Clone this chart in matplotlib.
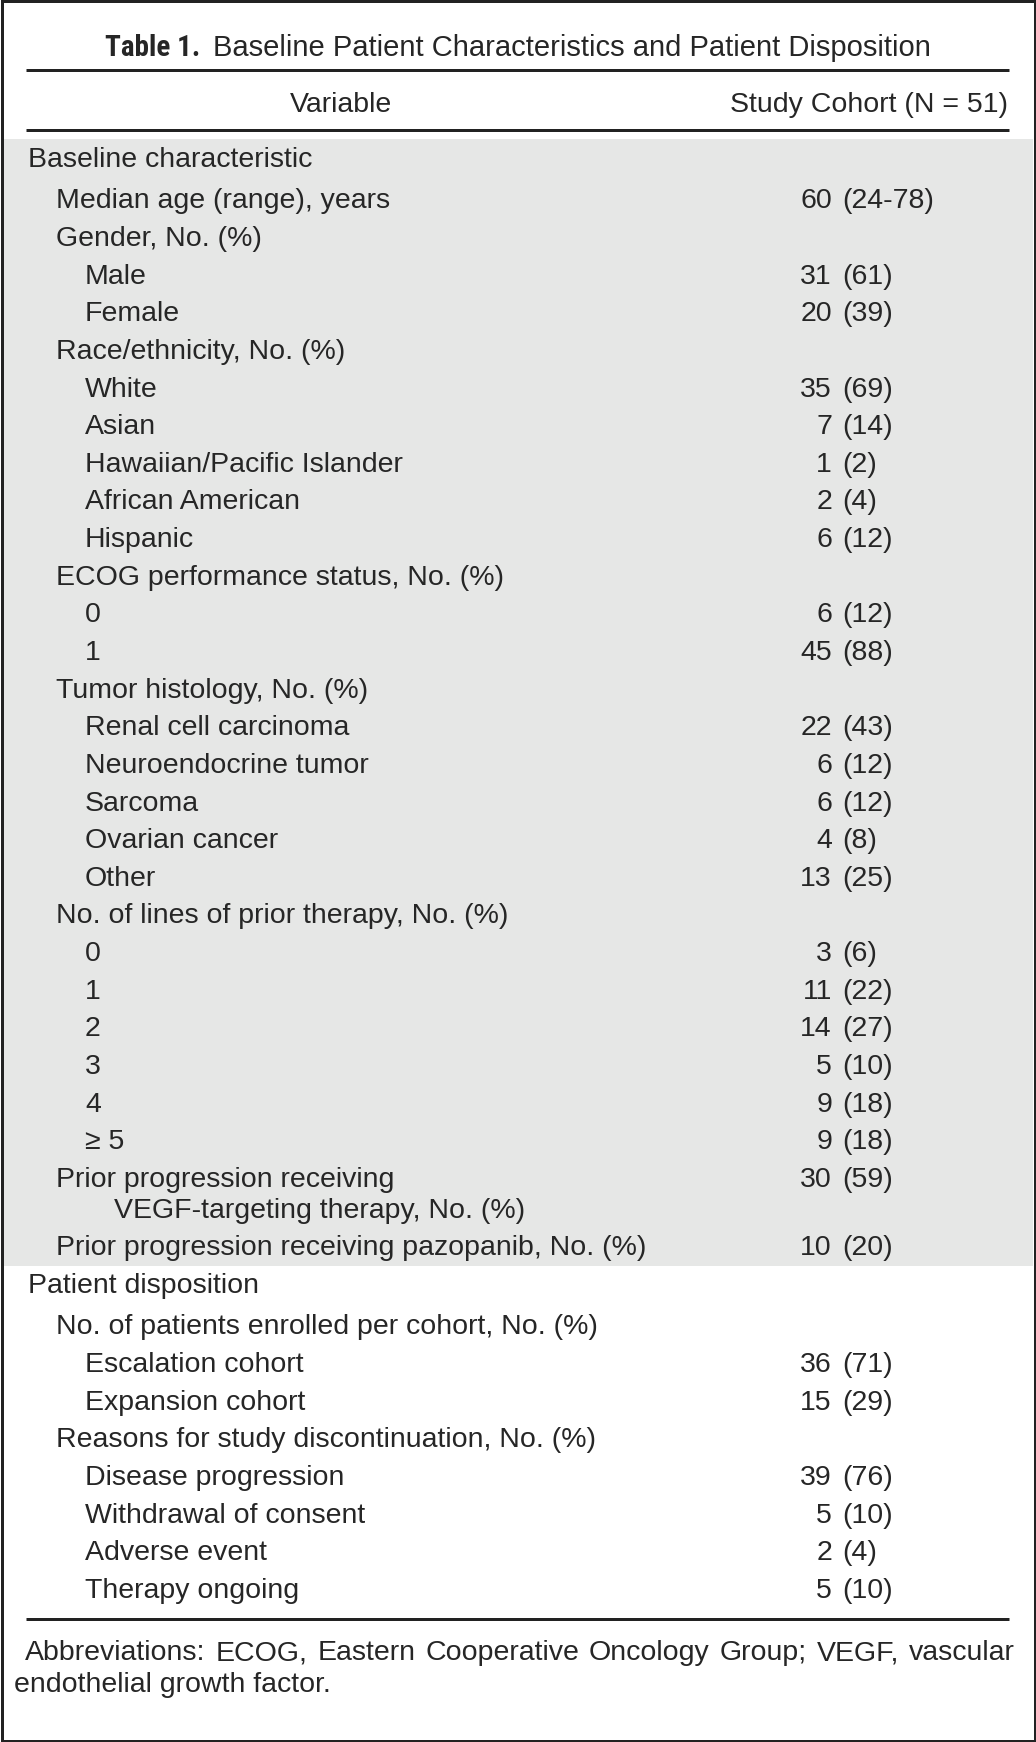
import matplotlib
matplotlib.use("Agg")
import matplotlib.pyplot as plt
from matplotlib.patches import Rectangle

# ---------------- data ----------------
title_bold = "Table 1."
title_rest = "Baseline Patient Characteristics and Patient Disposition"
col_headers = ["Variable", "Study Cohort (N = 51)"]

row_labels = [
    "Baseline characteristic",
    "Median age (range), years",
    "Gender, No. (%)",
    "Male",
    "Female",
    "Race/ethnicity, No. (%)",
    "White",
    "Asian",
    "Hawaiian/Pacific Islander",
    "African American",
    "Hispanic",
    "ECOG performance status, No. (%)",
    "0",
    "1",
    "Tumor histology, No. (%)",
    "Renal cell carcinoma",
    "Neuroendocrine tumor",
    "Sarcoma",
    "Ovarian cancer",
    "Other",
    "No. of lines of prior therapy, No. (%)",
    "0",
    "1",
    "2",
    "3",
    "4",
    "\u2265 5",
    "Prior progression receiving\nVEGF-targeting therapy, No. (%)",
    "Prior progression receiving pazopanib, No. (%)",
    "Patient disposition",
    "No. of patients enrolled per cohort, No. (%)",
    "Escalation cohort",
    "Expansion cohort",
    "Reasons for study discontinuation, No. (%)",
    "Disease progression",
    "Withdrawal of consent",
    "Adverse event",
    "Therapy ongoing",
]
row_levels = [0, 1, 1, 2, 2, 1, 2, 2, 2, 2, 2, 1, 2, 2, 1, 2, 2, 2, 2, 2,
              1, 2, 2, 2, 2, 2, 2, 1, 1, 0, 1, 2, 2, 1, 2, 2, 2, 2]
row_counts = ["", "60", "", "31", "20", "", "35", "7", "1", "2", "6", "", "6", "45",
              "", "22", "6", "6", "4", "13", "", "3", "11", "14", "5", "9", "9", "30",
              "10", "", "", "36", "15", "", "39", "5", "2", "5"]
row_pcts = ["", "24-78", "", "61", "39", "", "69", "14", "2", "4", "12", "", "12", "88",
            "", "43", "12", "12", "8", "25", "", "6", "22", "27", "10", "18", "18", "59",
            "20", "", "", "71", "29", "", "76", "10", "4", "10"]

footnote_line1 = "Abbreviations: ECOG, Eastern Cooperative Oncology Group; VEGF, vascular"
footnote_line2 = "endothelial growth factor."

# ---------------- layout ----------------
W, H = 1036, 1742
DPI = 100
TXT = "#262626"
FS = 20.5
FS_TITLE = 21.0
FAM = ["Liberation Sans", "DejaVu Sans"]

fig = plt.figure(figsize=(W / DPI, H / DPI), dpi=DPI)
ax = fig.add_axes([0, 0, 1, 1])
ax.set_xlim(0, W)
ax.set_ylim(H, 0)
ax.axis("off")

px = 72.0 / DPI  # points per pixel

# outer frame
ax.add_patch(Rectangle((1.5, 1.5), W - 3, H - 3, fill=False, ec="#222222", lw=3 * px, zorder=5))

# shading for baseline block
ax.add_patch(Rectangle((3, 139), W - 6, 1266 - 139, fc="#e6e7e6", ec="none", zorder=0))

# rules
for yy in (70.5, 130.5, 1619):
    ax.plot([26, 1009], [yy, yy], color="#222222", lw=3 * px, solid_capstyle="butt", zorder=2)

fig.canvas.draw()
renderer = fig.canvas.get_renderer()
inv = ax.transData.inverted()


def text_width(t):
    bb = t.get_window_extent(renderer=renderer)
    (x0, _), (x1, _) = inv.transform([(bb.x0, 0), (bb.x1, 0)])
    return x1 - x0


# title
tb = ax.text(0, 56.5, title_bold, fontsize=FS_TITLE, fontweight="bold",
             family=["Liberation Sans Narrow", "Roboto Condensed", "Liberation Sans"],
             color=TXT, va="baseline")
tr = ax.text(0, 56.5, title_rest, fontsize=FS_TITLE, family=FAM, color=TXT, va="baseline")
wb, wr = text_width(tb), text_width(tr)
gap = 12
total = wb + gap + wr
x0 = 518 - total / 2
tb.set_x(x0)
tr.set_x(x0 + wb + gap)

# column headers
ax.text(340.6, 112.5, col_headers[0], fontsize=FS, family=FAM, color=TXT, ha="center", va="baseline")
ax.text(1008, 112.5, col_headers[1], fontsize=FS, family=FAM, color=TXT, ha="right", va="baseline")

# rows
indent0, indent_step = 27.5, 28.8
step, extra_line, header_extra = 37.63, 30.7, 4.0
num_right, pct_left = 832, 842
y = 166.8
for lab, lev, cnt, pct in zip(row_labels, row_levels, row_counts, row_pcts):
    lines = lab.split("\n")
    for i, ln in enumerate(lines):
        lv = lev if i == 0 else lev + 2
        ax.text(indent0 + indent_step * lv, y + i * extra_line, ln, fontsize=FS, family=FAM,
                color=TXT, va="baseline", ha="left")
    if cnt:
        ax.text(num_right, y, cnt, fontsize=FS, family=FAM, color=TXT, ha="right", va="baseline")
        ax.text(pct_left, y, "(" + pct + ")", fontsize=FS, family=FAM, color=TXT, ha="left", va="baseline")
    y += step + extra_line * (len(lines) - 1) + (header_extra if lev == 0 else 0)

# footnote (justified first line)
words = footnote_line1.split(" ")
fx0, fx1 = 25, 1015
ws = []
objs = []
for w_ in words:
    t = ax.text(0, 1660, w_, fontsize=FS, family=FAM, color=TXT, va="baseline", ha="left")
    objs.append(t)
    ws.append(text_width(t))
space = max((fx1 - fx0 - sum(ws)) / (len(words) - 1), 4)
xx = fx0
for t, w_ in zip(objs, ws):
    t.set_x(xx)
    xx += w_ + space
ax.text(14.5, 1691.5, footnote_line2, fontsize=FS, family=FAM, color=TXT, va="baseline", ha="left")

fig.savefig("out.png", dpi=DPI, facecolor="white")
